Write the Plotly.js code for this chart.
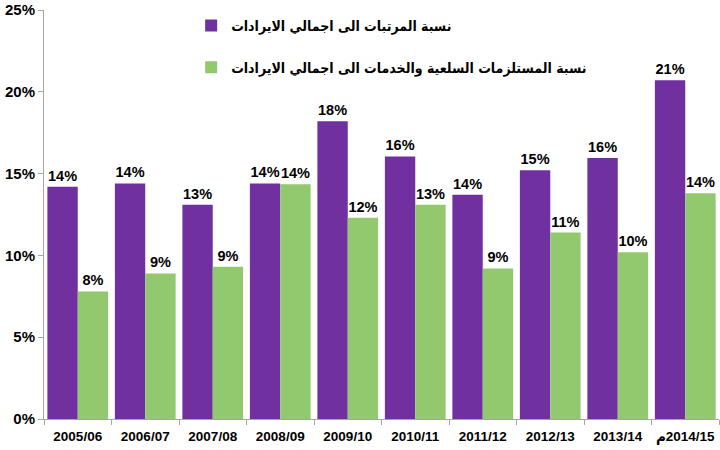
<!DOCTYPE html>
<html>
<head>
<meta charset="utf-8">
<script src="https://cdn.plot.ly/plotly-3.0.1.min.js"></script>
<style>html,body{margin:0;padding:0;background:#fff;}#chart{width:720px;height:450px;}</style>
</head>
<body>
<div id="chart"></div>
<script>
var categories = ["2005/06","2006/07","2007/08","2008/09","2009/10","2010/11","2011/12","2012/13","2013/14","م\u200E2014/15"];
var salariesShare = [14.2, 14.4, 13.1, 14.4, 18.2, 16.05, 13.7, 15.2, 15.95, 20.7];
var suppliesShare = [7.8, 8.9, 9.3, 14.35, 12.3, 13.1, 9.2, 11.4, 10.2, 13.8];
var seriesNames = ["نسبة المرتبات الى اجمالي الايرادات", "نسبة المستلزمات السلعية والخدمات الى اجمالي الايرادات"];
var yTicks = [0, 5, 10, 15, 20, 25];

var FONT = "Liberation Sans, Arial, DejaVu Sans, sans-serif";
var ARABIC = "DejaVu Sans Condensed, DejaVu Sans, sans-serif";
var purple = "#7030A0";
var green = "#92C96E";

var traces = [
  {
    type: "bar", x: categories, y: salariesShare, name: seriesNames[0],
    marker: {color: purple}, texttemplate: "%{y:.0f}%", textposition: "outside",
    cliponaxis: false, textfont: {family: FONT, size: 14.5, color: "#000", weight: 700},
    legend: "legend", hoverinfo: "skip"
  },
  {
    type: "bar", x: categories, y: suppliesShare, name: seriesNames[1],
    marker: {color: green}, texttemplate: "%{y:.0f}%", textposition: "outside",
    cliponaxis: false, textfont: {family: FONT, size: 14.5, color: "#000", weight: 700},
    legend: "legend2", hoverinfo: "skip"
  }
];

var layout = {
  width: 720, height: 450,
  margin: {l: 44, r: 1, t: 10, b: 31},
  paper_bgcolor: "#fff", plot_bgcolor: "#fff",
  barmode: "group", bargap: 0.1, bargroupgap: 0,
  font: {family: FONT, size: 14, color: "#000", weight: 700},
  showlegend: true,
  legend: {x: 0.218, y: 0.961, xanchor: "left", yanchor: "middle", bgcolor: "rgba(0,0,0,0)",
           font: {family: ARABIC, size: 14, color: "#000", weight: 700}},
  legend2: {x: 0.218, y: 0.859, xanchor: "left", yanchor: "middle", bgcolor: "rgba(0,0,0,0)",
           font: {family: ARABIC, size: 14, color: "#000", weight: 700}},
  xaxis: {
    type: "category", showline: true, linecolor: "#A6A6A6", linewidth: 1,
    ticks: "outside", tickson: "boundaries", ticklen: 5, tickcolor: "#A6A6A6",
    showgrid: false, zeroline: false, ticklabelstandoff: 5, tickangle: 0,
    tickfont: {family: FONT, size: 13.5, color: "#000", weight: 700}
  },
  yaxis: {
    range: [0, 25], tickvals: yTicks, ticktext: yTicks.map(function(v){return v + "%";}),
    showline: true, linecolor: "#A6A6A6", linewidth: 1,
    ticks: "outside", ticklen: 5, tickcolor: "#A6A6A6",
    showgrid: false, zeroline: false,
    tickfont: {family: FONT, size: 15, color: "#000", weight: 700}
  }
};

Plotly.newPlot("chart", traces, layout, {staticPlot: true, displayModeBar: false});
</script>
</body>
</html>
